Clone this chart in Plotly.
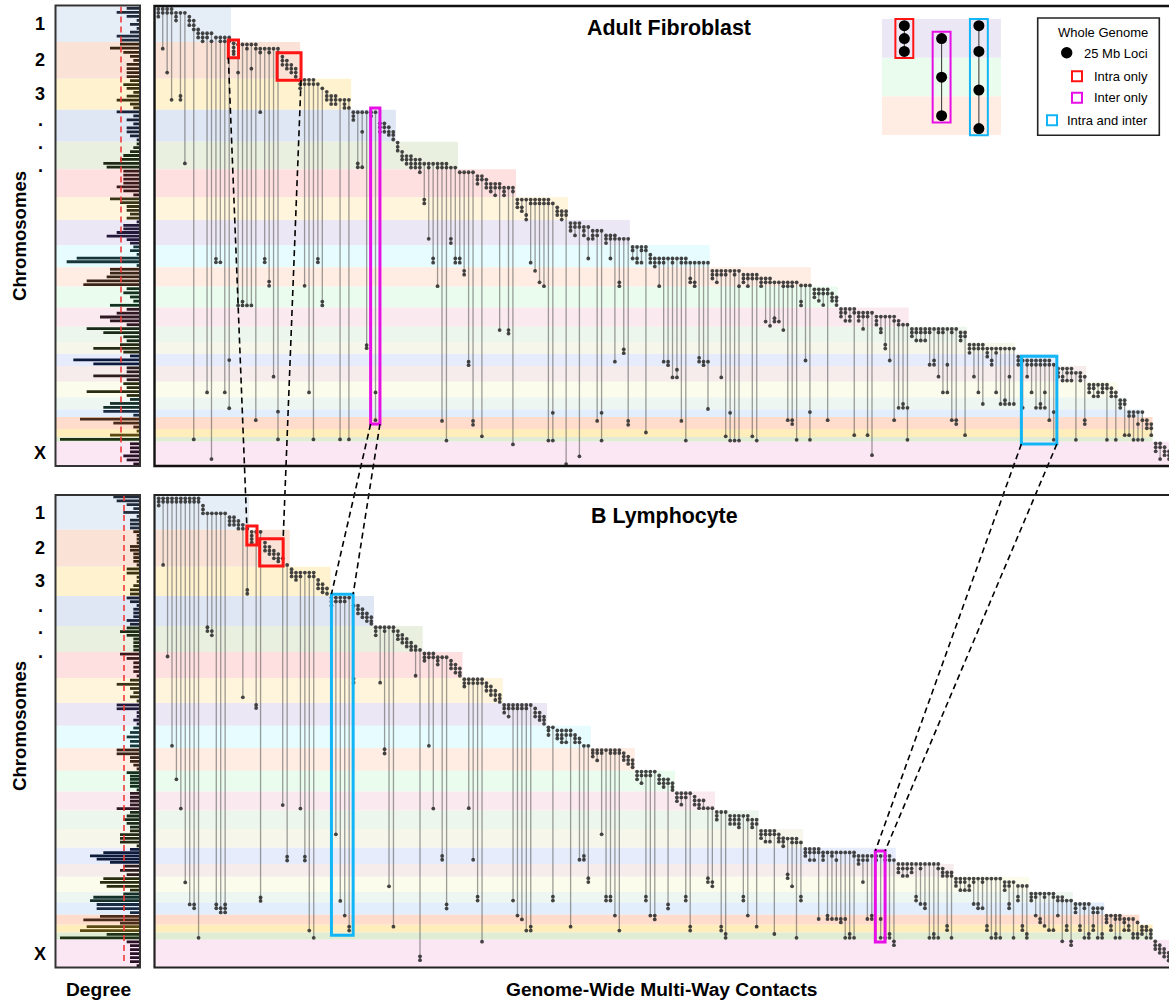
import plotly.graph_objects as go

W, H = 1169, 1002

# Chromosome labels and band colours
chrom_names = ["1","2","3","4","5","6","7","8","9","10","11","12","13","14","15","16","17","18","19","20","21","22","X"]
band_colors = ["#e5edf7","#fae3d6","#fff2cf","#dfe6f4","#e9f0e0","#ffe0e1","#fff5dc","#ece7f4","#e6fcfe","#ffece2",
               "#e9fcee","#fbe9f0","#edf6ec","#f6f7ea","#e6ecfc","#f6ecec","#fbfceb","#eef6f1","#e2eefb","#ffdccb",
               "#ffeebb","#e1ecd5","#fbe6f3"]
bar_colors = ["#1f2a3a","#3a2412","#3a3210","#1a2238","#1e2a14","#3a1a1a","#3a3418","#221a3a","#16363a","#3a2418",
              "#14301e","#2f1822","#1a2a18","#242a14","#0e1a3c","#2c1c1e","#2a2c10","#14302a","#1a2c44","#4a2a18",
              "#5a4a14","#1f3216","#2a1226"]

# Chromosome boundaries on the locus axis
fib_edges = [-0.65,8.6,18.1,26.2,34.5,41.6,48.8,54.8,61.3,67.1,72.1,77.5,82.5,86.7,89.6,92.7,96.8,100.9,104,106,109.1,111.2,112.4,118.7]
bcell_edges = [-0.86,8.2,17.8,25.4,33.2,39.9,46.7,53.2,59.1,64.9,70.8,76.2,81.1,85.9,90.8,95,98.3,102.3,105,108.2,110.8,112.8,114.7,121.9]
# Last contact reached by each chromosome's band
fib_band_end = [16.4,32,43.5,53.6,67.6,80.7,92.4,106.4,124.4,147.2,153.3,169.3,182.4,193.2,202.5,209.3,216.3,218,222,224.3,224.3,224.3,228]
bcell_band_end = [20.4,29.6,38.8,48.6,59.6,68.6,77.7,87.7,97.6,107.5,116.6,125.6,135.5,145.5,166.4,179.5,196.5,206.4,213.5,221.4,224.4,224.4,229]

# Degree of each locus, per chromosome
fib_degree = [[4,7,4,1,3,1,3,7,6],[6,9,5,3,2,4,4,4,4],[3,5,4,2,4,7,3,2],[7,2,4,2,4,4,3,1],[1,2,3,5,6,11,10],[5,5,5,5,7,5,2],
              [9,6,4,4,3,4],[1,5,5,7,10,4,3],[2,3,1,19,22,1],[9,9,10,16,17],[4,5,3,2,9],[4,7,12,9,4],[16,11,5,4],[6,14,5],
              [3,20,14],[4,4,14,4],[5,4,16,4],[3,9,11],[11,2],[18,8,2],[1,9],[24],[3,3,3,5,4,2]]
bcell_degree = [[8,7,4,2,5,1,3,3,3],[2,1,1,1,3,3,2,2,2,1],[4,4,1,1,2,3,3],[4,3,1,2,2,2,4,3],[4,6,4,2,2,2,2],[6,4,2,2,2,1],
                [3,7,3,2,3,1],[7,7,1,1,2,1],[2,3,4,3,3],[7,7,3,3,2,1],[4,3,3,3,3,1],[3,3,3,3,7],[3,4,5,4,3],[3,6,6,6,1],
                [3,11,15,13,9],[5,6,4],[11,12,10,3],[5,14,15],[13,13,3],[12,17,6],[16,18],[10,24],[4,3,3,3,3,3,1]]
fib_mean_degree = 5.7
bcell_mean_degree = 4.8

# Multi-way contacts: loci touched by each contact, in column order
fib_contacts = [
[0,1,2],[0,1,10.3],[0,1,16.5],[0,1,23.6],[1,2,3],[1,22.6,23.6],[1,40.1],[2,3,4.2],[3,4.2,5.3,111.8],[5.3,6.3,7.4],
[6.3,7.4,8.4],[6.3,7.4,99.6],[6.3,8.4,116.9],[7.4,64.9,65.8],[7.4,8.4,65.8],[7.4,8.4,99.6],[7.4,8.4,91.2,103.7],[8.9,10,11,11.7],[9.2,16.5,77],[9.2,76,77],
[9.2,10.3,77],[9.2,15.5,77],[9.2,10.3,106.8],[10.3,11.3,26.8],[10.3,64.9,65.8],[10.3,11.3,70.8,71.9],[10.3,95.5],[10.3,11.3,104.6,111.8],[12.4,13.4,14.5],[13.4,14.5,15.5],
[14.5,15.5,16.5],[15.5,16.5,17.6],[18.4,19.5,20.6],[18.4,19.5,71.9],[18.4,19.5,99.6],[18.4,19.5,111.8],[19.5,64.9,65.8],[20.6,76,77],[21.5,22.6,23.6],[22.6,23.6,24.7],
[22.6,23.6,24.7],[23.6,111.8],[23.6,24.7,25.7],[23.6,25.7,111.8],[26.8,27.8,28.8],[26.8,40.1,41.1],[26.8,31.9,41.1],[26.8,87.3,88.1],[26.8,27.8],[26.8,99.6,106.8],
[29.7,30.7,31.9],[29.7,30.7,31.9],[30.7,31.9,32.7],[31.9,32.7,33.9],[34.7,35.8,36.8],[37.1,38.2,39.1],[38.2,39.1,40.2],[38.2,39.1,40.2,41.2],[39.1,40.2,41.2],[39.1,40.2,41.2,42.4],
[40.2,49.5,50.5],[40.2,41.2,59.7],[40.2,64.8,65.9],[40.2,41.2,72],[40.2,41.2,107],[40.2,41.2,112.1],[41.2,59.7,60.8],[41.2,64.8,65.9],[42.4,64.8,65.9],[42.4,68,69],
[42.4,91.6,92.5],[42.4,107,108],[43.4,44.3,45.4],[43.4,44.3,111],[44.3,45.4,46.4],[45.4,46.4,47.4],[45.4,46.4,48.4],[45.4,46.4,83.4],[46.4,47.4,48.4],[46.4,83.4,84.3],
[46.4,47.4,113.1],[49.5,50.5,51.5],[49.5,51.5,52.5],[49.5,53.5,54.7],[49.5,50.5,65.9],[49.5,50.5,68],[49.5,50.5,71],[49.5,50.5,72],[49.5,50.5,112.1],[50.5,104.9,112.1],
[51.5,52.5,53.5],[52.5,53.5,54.7],[52.5,53.5,118.2],[55.6,56.6,57.6],[55.6,56.6,58.8],[55.6,56.6,116.2],[56.6,57.6,58.8],[56.6,59.7,64.8],[57.6,58.8,59.7],[57.6,58.8,107],
[57.6,104.9,112.1],[58.8,59.7,60.8],[58.8,59.7,64.8],[58.8,59.7,91.6],[59.7,71,72],[59.7,88.4,89.4],[59.7,107,108],[61.8,62.7,64.8],[61.8,64.8,65.9],[61.8,62.7,65.9],
[61.8,62.7,110],[63.8,64.8,65.9],[64.8,65.9,66.9],[64.8,65.9,72],[64.8,65.9,91.6],[64.8,91.6,92.5],[64.8,65.9,95.7],[64.8,93.7,95.7],[64.8,65.9,107],[64.8,65.9,112.1],
[65.9,70,71],[65.9,71,72],[65.9,90.6,91.6],[65.9,91.6,92.5],[65.9,91.6,103.9],[68,69,70],[68,69,71],[68,69,95.7],[68,69,111],[68,104.9,112.1],
[68,69,112.1],[68,72,112.1],[69,70,71],[69,70,72],[69,70,111],[69,70,112.1],[70,71,72],[70,71,81.2],[70,71,82.3],[71,80.3,81.2],
[71,81.2],[71,72,83.4],[71,72,106.8],[71,72,106.8,107.8],[71,111.9],[71.8,76,77],[71.8,91.3],[71.8,104.7,111.9],[72.8,73.9,74.9],[72.8,73.9,75.8],
[72.8,73.9,76.9],[72.8,73.9,106.8],[73.9,74.9,75.8],[74.9,75.8,76.9],[77.9,78.9,79.9],[77.9,78.9,81],[77.9,79.9,81],[77.9,78.9,110.7],[78.9,79.9,81],[78.9,79.9,83.1],
[78.9,79.9,110.7],[78.9,115.9],[79.9,81,82],[79.9,83.1,84],[79.9,87.2,88.2],[79.9,91.3],[79.9,81,106.8],[81,82,103.6],[82,102.6,103.6],[82,103.6,111.9],
[83.1,84,85],[83.1,84,86.1],[83.1,84,86.1],[83.1,84,86.1],[83.1,84,92.4],[83.1,91.3,92.4],[83.1,84,95.5],[83.1,84,99.6],[83.1,92.4,99.6],[83.1,84,106.8],
[83.1,106.8,107.8],[84,85,86.1],[84,85,110.7],[87.2,88.2,89.3],[87.2,88.2,95.5],[87.2,88.2,99.6],[87.2,88.2,102.6],[88.2,89.3,90.3],[88.2,91.3,92.4],[88.2,89.3,99.6],
[88.2,102.6],[88.2,101.6,102.6],[88.2,95.5,102.6],[88.2,102.6],[90.3,91.3,92.4],[91.3,103.6],[91.3,92.4,95.5],[91.3,92.4,99.6],[91.3,92.4,103.6],[91.3,92.4,102.6,103.6],
[91.3,92.4,99.6,103.6],[91.3,92.4,106.8],[92.4,104.7,111.9],[93.4,94.5,95.5],[93.4,95.5,96.5],[93.4,94.5,96.5],[93.4,94.5,96.5],[94.5,111.9],[94.5,95.5,96.5],[95.5,106.8,107.8],
[97.6,98.5,99.6],[97.6,98.5,100.6],[97.6,99.6,100.6],[97.6,98.5,99.6],[97.6,98.5,111.9],[98.5,99.6,100.6],[99.6,100.6,111.9],[101.6,102.6,103.6],[101.6,102.6,110.7],[104.7,105.7,110.7],
[104.7,105.7,111.9],[104.7,107.8,111.9],[104.7,106.8,111.9],[106.8,107.8,108.9],[107.8,108.9,110.7],[112.8,113.8,114.9],[112.8,113.8,116.9],[113.8,114.9,115.9],[114.9,115.9,116.9],
]

bcell_contacts = [
[0,0.9,1.9],[0,0.9,17.3],[0,0.9,41.1],[0,0.9,64.3],[0,0.9,73],[0,0.9,80.6],[0,0.9,99.8],[0,0.9,105.5],[0,0.9,105.5,106.5],[0,0.9,114.2],
[1.9,2.9,3.9],[3.9,33.5,34.5],[3.9,34.5,35.6],[3.9,105.5,106.5],[3.9,106.5,107.6],[3.9,105.5,106.5,107.6],[4.9,5.9,6.9],[4.9,5.9,6.9],[5.9,6.9,7.9],[6.9,7.9,51.7],
[7.9,23.8,24.8],[8.7,9.7,10.6,11.5],[8.7,53.7,54.5],[8.7,103.7,104.6],[11.5,12.6,13.6],[12.6,13.6,14.5],[13.6,14.5,15.6],[14.5,15.6,16.4],[15.6,79.7],[17.3,93.1,94.1],
[18.4,19.3,20.3],[19.3,20.3,21.2],[19.3,20.3,80.6],[19.3,93.1,94.1],[19.3,20.3,112.3],[19.3,20.3,114.2],[21.2,22.3,23.4],[22.3,23.4,24.4],[23.4,24.8],[25.8,26.8,27.9],
[25.8,26.8,87.3],[25.8,26.8,104.6],[25.8,26.8,108.4],[25.8,111.3,112.3],[27.9,46.9,47.9],[27.9,28.8,29.9],[28.8,29.9,30.9],[29.9,30.9,31.9],[30.9,31.9,32.6],[33.5,34.5,35.6],
[33.5,47.9],[33.5,34.5,65.2,66.3],[33.5,100.8],[33.5,34.5,111.3],[34.5,35.6,36.6],[35.5,36.5,37.5],[36.5,37.5,38.5],[37.5,38.5,39.4],[38.5,39.4,46.1],[39.4,119,120],
[40.3,41.3,42.2],[40.3,41.3,64.3],[40.3,41.3,80.6],[41.3,42.2,43.2],[41.3,92.9,93.9],[41.3,105.5,106.6],[42.2,43.2,44.2],[43.2,44.2,45.3],[44.2,45.3,46.1],[47,48,48.9],
[47,48,80.5],[47,48,93.9],[47,48,103.5,104.5],[47,48,115.2],[48,48.9,50],[48.9,50,51.1],[50,51.1,52.4],[51.1,52,52.9],[53.7,54.6,55.7],[53.7,54.6,56.7],
[53.7,54.6,104.5],[53.7,54.6,108.4],[53.7,54.6,109.4],[53.7,54.6,112.3],[53.7,111.3,112.3],[54.6,55.7,56.7],[55.7,56.7,57.6],[56.7,57.6,58.6],[59.5,60.3,61.5],[59.5,103.5,104.5],
[60.3,61.5,62.4],[60.3,61.5,62.4,63.4],[60.3,61.5,63.4],[60.3,61.5,111.3],[61.5,62.4,63.4],[62.4,63.4,93.9],[64.3,92.9,93.9],[64.3,98.7,99.7],[65.4,66.2,67.1],[65.4,66.2,68.1],
[65.4,66.2,87.3],[65.4,103.5,104.5],[65.4,66.2,103.5,104.5],[65.4,66.2,108.4],[65.4,66.2,112.3],[66.2,67.1,68],[67.1,68,69],[68,69,69.9],[71,72,73],[71,72,74],
[71,72,103.5,104.5],[71,72,108.4],[71,108.4,109.4],[72,73,74],[73,74,75],[73,74,105.5,106.6],[74,75,75.8],[76.6,77.7,78.7],[76.6,77.7,79.6],[76.6,77.7,103.5,104.5],
[76.6,111.3,112.3],[77.5,78.5,79.6],[78.5,79.6,80.5],[78.5,80.5],[80.5,98.7,99.7],[80.5,99.7,100.8],[81.5,82.5,83.5],[81.5,111.3,112.3],[81.5,113.2,114.2],[82.5,83.5,84.6],
[82.5,83.5,84.6],[82.5,83.5,84.6,85.5],[82.5,103.5,104.5],[82.5,83.5,108.4],[83.5,84.6,85.5],[83.5,84.6,111.3],[86.4,87.3,88.3],[86.4,87.3,89.2],[86.4,87.3,89.2],[86.4,87.3,113.2],
[87.3,88.3,89.2],[88.3,89.2,90.4],[88.4,97.7,98.7],[88.4,89.4,100.8],[88.4,89.4,114.2],[89.4,103.5,104.5],[91.1,92,92.9],[91.1,92,94],[91.1,92,94],[91.1,92,109.3],
[92,92.9,94],[92,108.4,109.3],[92,92.9,109.3],[92,94,109.3],[92,109.3,110.2],[92,109.3,114.2],[92,113.2,114.2],[92,92.9,114.2],[92.9,94,95],[92.9,94,99.7],
[92.9,94,109.3],[92.9,108.4,109.3],[92.9,94],[92.9,109.3,114.2],[92.9,94,114.2],[92.9,94,113.2,114.2],[94,115.1,116.1],[95,96.2,97.2],[95,96.2,98.1],[95,96.2,98.1],
[95,96.2,97.2],[95,103.5,104.5],[95,96.2,105.4],[95,105.4,106.5],[95,114.2],[95,113.2,114.2],[95,96.2,114.2],[96.2,97.2,98.1],[97.2,98.1,111.1,112.2],[97.2,98.1,114.2],[98.8,99.7,100.7],
[98.8,99.7,101.8],[98.8,99.7,101.8],[98.8,100.7,101.8],[98.8,99.7,105.4],[98.8,105.4,106.5],[98.8,99.7,106.5],[98.8,111.1,112.2],[98.8,114.2],[98.8,113.2,114.2],[98.8,114.2],
[99.7,100.7,101.8],[99.7,100.7,105.4,106.5],[99.7,114.2],[100.7,103.5,104.5],[100.7,111.1,112.2],[100.7,113.2,114.2],[102.7,103.6,104.5],[102.7,103.6,108.4],[102.7,109.3,110.2],[102.7,103.6,111.1],
[102.7,112.2],[102.7,103.6,112.2],[103.6,104.5,108.4],[103.6,104.5,115.1],[104.5,111.1,112.2],[104.5,115.1,116.1],[105.4,106.5,107.6],[105.4,111.1,112.2],[105.4,106.5,114.2],[105.4,113.2,114.2],
[106.5,107.6,111.1,112.2],[106.5,107.6,114.2],[106.5,113.2,114.2],[108.4,109.3,110.2],[108.4,111.1,112.2],[108.4,109.3,114.2],[108.4,109.3,114.2],[109.3,110.2,112.2],[109.3,111.1,112.2],[109.3,113.2,114.2],
[110.2,113.2,114.2],[111.3,112.2,113.2],[111.3,112.2,114.2],[112.2,113.2,114.2],[115.1,116.1,117.1],[116.1,117.1,118.1],[117.1,118.1,119.1],[118.1,119.1,120.1],
]

# Highlighted groups: (first column, last column, first locus, last locus)
fib_box_intra_small = (15.8, 18.1, 8.05, 12.65)
fib_box_intra_large = (26.8, 32.2, 11.35, 18.5)
fib_box_inter = (47.9, 50.0, 25.7, 107.8)
fib_box_both = (194.7, 202.7, 90.2, 113.0)
bcell_box_intra_small = (19.9, 22.2, 7.2, 12.1)
bcell_box_intra_large = (22.8, 28.1, 10.5, 17.6)
bcell_box_both = (39.0, 43.9, 24.9, 113.5)
bcell_box_inter = (161.8, 164.0, 91.6, 115.3)

# Inset example contacts
inset_columns = [1, 2, 3]
inset_loci = [[0, 1, 2], [1, 4, 7], [0, 2, 5, 8]]
inset_edges = [-0.52, 2.5, 5.5, 8.5]
inset_colors = ["#ece7f4", "#e9fcee", "#ffece2"]
inset_span = (0.393, 3.593)

RED, MAGENTA, CYAN = "#ff1414", "#e60fe6", "#12b5f5"

# Layout of panels in page pixels
P = dict(
    fl=dict(x=(56, 140), y=(6.5, 466), xr=(25.2, 0), yr=(118.7, -0.65)),
    fm=dict(x=(155, 1169), y=(6.5, 466), xr=(-0.744, 228.0), yr=(118.7, -0.65)),
    bl=dict(x=(56, 140), y=(495, 967.5), xr=(25.2, 0), yr=(121.9, -0.86)),
    bm=dict(x=(155, 1169), y=(495, 967.5), xr=(-0.835, 228.1), yr=(121.9, -0.86)),
    ins=dict(x=(881.7, 1001), y=(15, 139), xr=(0.393, 3.593), yr=(8.81, -0.83)),
)
AX = dict(fl=("x", "y"), fm=("x2", "y2"), bl=("x3", "y3"), bm=("x4", "y4"), ins=("x5", "y5"))

def px(x): return x / W
def py(y): return 1 - y / H

fig = go.Figure()
layout = {}
for key, p in P.items():
    xa, ya = AX[key]
    xn = "xaxis" + xa[1:]
    yn = "yaxis" + ya[1:]
    layout[xn] = dict(domain=[px(p["x"][0]), px(p["x"][1])], range=list(p["xr"]), visible=False, fixedrange=True, anchor=ya)
    layout[yn] = dict(domain=[py(p["y"][1]), py(p["y"][0])], range=list(p["yr"]), visible=False, fixedrange=True, anchor=xa)

def to_page(key, col, row):
    p = P[key]
    fx = (col - p["xr"][0]) / (p["xr"][1] - p["xr"][0])
    fy = (row - p["yr"][0]) / (p["yr"][1] - p["yr"][0])
    return p["x"][0] + fx * (p["x"][1] - p["x"][0]), p["y"][1] + fy * (p["y"][0] - p["y"][1])

shapes = []
def rect(xref, yref, x0, x1, y0, y1, fill=None, line=None, lw=0, layer="below"):
    shapes.append(dict(type="rect", xref=xref, yref=yref, x0=x0, x1=x1, y0=y0, y1=y1, layer=layer,
                       fillcolor=fill if fill else "rgba(0,0,0,0)",
                       line=dict(color=line if line else "rgba(0,0,0,0)", width=lw)))

def add_panel(lkey, mkey, edges, band_end, degree, mean, contacts):
    lx, ly = AX[lkey]
    mx, my = AX[mkey]
    for c in range(len(chrom_names)):
        rect(lx, ly, P[lkey]["xr"][0], 0, edges[c], edges[c + 1], fill=band_colors[c])
        rect(mx, my, P[mkey]["xr"][0], band_end[c], edges[c], edges[c + 1], fill=band_colors[c])
    ys, xs, cols = [], [], []
    for c, vals in enumerate(degree):
        step = (edges[c + 1] - edges[c]) / len(vals)
        for j, d in enumerate(vals):
            ys.append(edges[c] + (j + 0.5) * step)
            xs.append(d)
            cols.append(bar_colors[c])
    fig.add_trace(go.Bar(x=xs, y=ys, orientation="h", width=0.72, xaxis=lx, yaxis=ly,
                         marker=dict(color=cols, line=dict(width=0)), showlegend=False))
    shapes.append(dict(type="line", xref=lx, yref=ly, x0=mean, x1=mean, y0=edges[0], y1=edges[-1] - 1,
                       layer="above", line=dict(color="#f23a3a", width=1.6, dash="6px,4px")))
    lx_, ly_, dx, dy = [], [], [], []
    for i, loci in enumerate(contacts):
        lx_ += [i, i, None]
        ly_ += [min(loci), max(loci), None]
        dx += [i] * len(loci)
        dy += list(loci)
    fig.add_trace(go.Scatter(x=lx_, y=ly_, mode="lines", xaxis=mx, yaxis=my, showlegend=False,
                             line=dict(color="rgba(80,80,80,0.55)", width=1.3)))
    fig.add_trace(go.Scatter(x=dx, y=dy, mode="markers", xaxis=mx, yaxis=my, showlegend=False,
                             marker=dict(color="rgba(50,50,50,0.9)", size=3.8, line=dict(width=0))))

add_panel("fl", "fm", fib_edges, fib_band_end, fib_degree, fib_mean_degree, fib_contacts)
add_panel("bl", "bm", bcell_edges, bcell_band_end, bcell_degree, bcell_mean_degree, bcell_contacts)

# Inset
for c in range(3):
    rect("x5", "y5", inset_span[0], inset_span[1], inset_edges[c], inset_edges[c + 1], fill=inset_colors[c])
for col, loci in zip(inset_columns, inset_loci):
    fig.add_trace(go.Scatter(x=[col] * len(loci), y=loci, mode="lines+markers", xaxis="x5", yaxis="y5", showlegend=False,
                             line=dict(color="#333", width=1), marker=dict(color="black", size=11)))
for col, loci, colr in zip(inset_columns, inset_loci, [RED, MAGENTA, CYAN]):
    rect("x5", "y5", col - 0.24, col + 0.24, min(loci) - 0.52, max(loci) + 0.52, line=colr, lw=2, layer="above")

# Highlight boxes
def box(key, b, colr):
    xa, ya = AX[key]
    rect(xa, ya, b[0], b[1], b[2], b[3], line=colr, lw=3, layer="above")

box("fm", fib_box_intra_small, RED)
box("fm", fib_box_intra_large, RED)
box("fm", fib_box_inter, MAGENTA)
box("fm", fib_box_both, CYAN)
box("bm", bcell_box_intra_small, RED)
box("bm", bcell_box_intra_large, RED)
box("bm", bcell_box_both, CYAN)
box("bm", bcell_box_inter, MAGENTA)

def connector(b1, side1, b2, side2):
    a = to_page("fm", b1[side1], b1[3])
    z = to_page("bm", b2[side2], b2[2])
    shapes.append(dict(type="line", xref="paper", yref="paper", x0=px(a[0]), y0=py(a[1]), x1=px(z[0]), y1=py(z[1]),
                       layer="above", line=dict(color="black", width=1.6, dash="6px,4px")))

connector(fib_box_intra_small, 0, bcell_box_intra_small, 0)
connector(fib_box_intra_large, 1, bcell_box_intra_large, 1)
connector(fib_box_inter, 0, bcell_box_both, 0)
connector(fib_box_inter, 1, bcell_box_both, 1)
connector(fib_box_both, 0, bcell_box_inter, 0)
connector(fib_box_both, 1, bcell_box_inter, 1)

# Panel frames
def frame(x0, x1, y0, y1, colr, lw):
    rect("paper", "paper", px(x0), px(x1), py(y1), py(y0), line=colr, lw=lw, layer="above")

frame(55.5, 140, 5.5, 466, "#333333", 2)
frame(154.5, 1180, 6, 466, "#111111", 2.4)
frame(55.5, 140, 495, 967.5, "#333333", 2)
frame(154.5, 1180, 495, 967.5, "#222222", 2.2)

# Legend
frame(1037.7, 1159.3, 18, 135.3, "#222222", 1.6)
shapes.append(dict(type="circle", xref="paper", yref="paper", layer="above", fillcolor="black", line=dict(width=0),
                   x0=px(1061), x1=px(1072.4), y0=py(58.4), y1=py(47)))
for cx, cy, colr in [(1077, 76.3, RED), (1077, 97.7, MAGENTA), (1052, 120.3, CYAN)]:
    rect("paper", "paper", px(cx - 5), px(cx + 5), py(cy + 5), py(cy - 5), line=colr, lw=2, layer="above")

annotations = []
def text(x, y, s, size, bold=False, anchor="center", angle=0):
    annotations.append(dict(xref="paper", yref="paper", x=px(x), y=py(y), text=f"<b>{s}</b>" if bold else s,
                            showarrow=False, xanchor=anchor, yanchor="middle", textangle=angle,
                            font=dict(size=size, color="black", family="Liberation Sans, Arial, sans-serif")))

for s, y in [("Whole Genome", 32.7), ("25 Mb Loci", 53.3), ("Intra only", 76), ("Inter only", 97.7), ("Intra and inter", 120.3)]:
    text(1149.5, y, s, 13, anchor="right")

text(669, 28, "Adult Fibroblast", 21.4, True)
text(664, 516, "B Lymphocyte", 21.4, True)
text(19, 236, "Chromosomes", 18.6, True, angle=-90)
text(19, 726, "Chromosomes", 18.6, True, angle=-90)
text(98, 989, "Degree", 19.2, True)
text(661, 989, "Genome-Wide Multi-Way Contacts", 19.2, True)
for s, y in [("1", 24), ("2", 60), ("3", 94), (".", 120), (".", 143), (".", 166), ("X", 453),
             ("1", 513), ("2", 548), ("3", 581), (".", 606), (".", 628), (".", 652), ("X", 954)]:
    text(40, y, s, 18, True)

fig.update_layout(width=W, height=H, margin=dict(l=0, r=0, t=0, b=0), paper_bgcolor="white", plot_bgcolor="rgba(0,0,0,0)",
                  barmode="overlay", shapes=shapes, annotations=annotations, showlegend=False, **layout)
fig.write_html("out.html", config=dict(displayModeBar=False), post_script="document.body.style.margin='0';")
